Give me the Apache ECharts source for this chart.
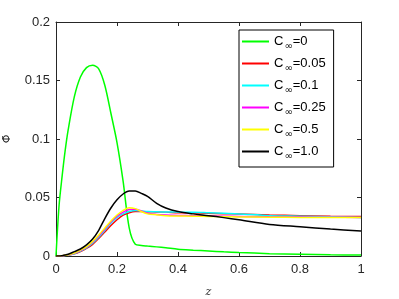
<!DOCTYPE html>
<html>
<head>
<meta charset="utf-8">
<script src="https://cdn.jsdelivr.net/npm/echarts@6/dist/echarts.min.js"></script>
<style>html,body{margin:0;padding:0;background:#fff;}#c{width:399px;height:299px;}</style>
</head>
<body>
<div id="c"></div>
<script>
const zs =      [0, 0.01, 0.02, 0.03, 0.04, 0.06, 0.08, 0.10, 0.12, 0.14, 0.16, 0.18, 0.20, 0.22, 0.24, 0.26, 0.28, 0.30, 0.33, 0.36, 0.40, 0.45, 0.50, 0.55, 0.60, 0.70, 0.80, 0.90, 1.0];
const phiC0 =   [0, 0.043, 0.068, 0.090, 0.108, 0.136, 0.153, 0.161, 0.163, 0.160, 0.146, 0.122, 0.097, 0.064, 0.024, 0.010, 0.009, 0.0085, 0.0078, 0.007, 0.0058, 0.005, 0.0043, 0.0036, 0.003, 0.002, 0.0014, 0.001, 0.0008];
const phiC005 = [0, 0, 0.0002, 0.0005, 0.0009, 0.0018, 0.0038, 0.0065, 0.010, 0.015, 0.0205, 0.026, 0.031, 0.035, 0.037, 0.038, 0.038, 0.0378, 0.0377, 0.0375, 0.037, 0.0368, 0.0365, 0.0362, 0.0358, 0.035, 0.0345, 0.034, 0.0337];
const phiC01 =  [0, 0, 0.0002, 0.0005, 0.0009, 0.002, 0.0042, 0.007, 0.011, 0.016, 0.022, 0.028, 0.033, 0.036, 0.038, 0.0388, 0.0385, 0.038, 0.0378, 0.0376, 0.0375, 0.0375, 0.037, 0.0365, 0.036, 0.0345, 0.034, 0.0335, 0.033];
const phiC025 = [0, 0, 0.0002, 0.0006, 0.001, 0.0023, 0.0046, 0.0076, 0.0118, 0.017, 0.023, 0.029, 0.034, 0.0375, 0.0398, 0.040, 0.0385, 0.0365, 0.0355, 0.035, 0.0347, 0.0345, 0.0343, 0.034, 0.0338, 0.0335, 0.0333, 0.0331, 0.033];
const phiC05 =  [0, 0, 0.0003, 0.0006, 0.001, 0.0025, 0.005, 0.008, 0.0125, 0.018, 0.024, 0.030, 0.035, 0.039, 0.0413, 0.0405, 0.038, 0.036, 0.0352, 0.0345, 0.0342, 0.034, 0.0338, 0.0336, 0.0334, 0.0332, 0.033, 0.0329, 0.0328];
const phiC1 =   [0, 0, 0.0003, 0.0008, 0.0015, 0.0037, 0.006, 0.0095, 0.0145, 0.022, 0.032, 0.041, 0.048, 0.053, 0.0555, 0.0555, 0.0535, 0.051, 0.045, 0.041, 0.038, 0.036, 0.0345, 0.0328, 0.031, 0.027, 0.025, 0.023, 0.0214];
const seriesNames = ['0', '0.05', '0.1', '0.25', '0.5', '1.0'];
const seriesData = [phiC0, phiC005, phiC01, phiC025, phiC05, phiC1];
const colors = ['#00ff00', '#ff0000', '#00ffff', '#ff00ff', '#ffff00', '#000000'];
const xTicks = [0, 0.2, 0.4, 0.6, 0.8, 1];
const yTicks = [0, 0.05, 0.1, 0.15, 0.2];

const chart = echarts.init(document.getElementById('c'));
const axisColor = '#262626';
const baseX = {
  type: 'value', min: xTicks[0], max: xTicks[xTicks.length - 1], interval: 0.2,
  axisLine: { onZero: false, lineStyle: { color: axisColor, width: 1 } },
  axisTick: { inside: true, length: 4, lineStyle: { color: axisColor } },
  splitLine: { show: false }
};
const baseY = {
  type: 'value', min: yTicks[0], max: yTicks[yTicks.length - 1], interval: 0.05,
  axisLine: { onZero: false, lineStyle: { color: axisColor, width: 1 } },
  axisTick: { inside: true, length: 4, lineStyle: { color: axisColor } },
  splitLine: { show: false }
};
chart.setOption({
  animation: false,
  color: colors,
  grid: { left: 56, right: 38, top: 22, bottom: 43, containLabel: false, outerBoundsMode: 'none' },
  xAxis: [
    Object.assign({}, baseX, {
      position: 'bottom',
      axisLabel: { color: axisColor, fontSize: 13, fontFamily: 'Liberation Sans', margin: 7 },
      name: 'z', nameLocation: 'middle', nameGap: 31,
      nameTextStyle: { fontFamily: 'DejaVu Serif', fontStyle: 'italic', fontSize: 11, color: axisColor }
    }),
    Object.assign({}, baseX, { position: 'top', axisLabel: { show: false } })
  ],
  yAxis: [
    Object.assign({}, baseY, {
      position: 'left',
      axisLabel: { color: axisColor, fontSize: 13, fontFamily: 'Liberation Sans', margin: 6 },
      name: '\u03A6\u0304', nameLocation: 'middle', nameGap: 43, nameRotate: 90,
      nameTextStyle: { fontFamily: 'DejaVu Sans', fontSize: 11, color: axisColor }
    }),
    Object.assign({}, baseY, { position: 'right', axisLabel: { show: false } })
  ],
  legend: {
    orient: 'vertical', left: 239, top: 30,
    backgroundColor: '#fff', borderColor: '#000', borderWidth: 1,
    padding: [5, 8, 6, 3], itemGap: 6,
    itemWidth: 27, itemHeight: 2, icon: 'rect',
    data: seriesNames,
    formatter: n => '{c|C}{s|\u221E}{c|=' + n + '}',
    textStyle: {
      rich: {
        c: { fontSize: 13, fontFamily: 'Liberation Sans', color: '#000' },
        s: { fontSize: 10, fontFamily: 'DejaVu Sans', color: '#000', padding: [9, 0, 0, 1] }
      }
    }
  },
  series: seriesNames.map((n, i) => ({
    name: n, type: 'line', xAxisIndex: 0, yAxisIndex: 0,
    showSymbol: false, symbol: 'none', smooth: 0.3,
    lineStyle: { width: 1.5, color: colors[i] },
    itemStyle: { color: colors[i] },
    data: zs.map((z, k) => [z, seriesData[i][k]])
  }))
});
</script>
</body>
</html>
